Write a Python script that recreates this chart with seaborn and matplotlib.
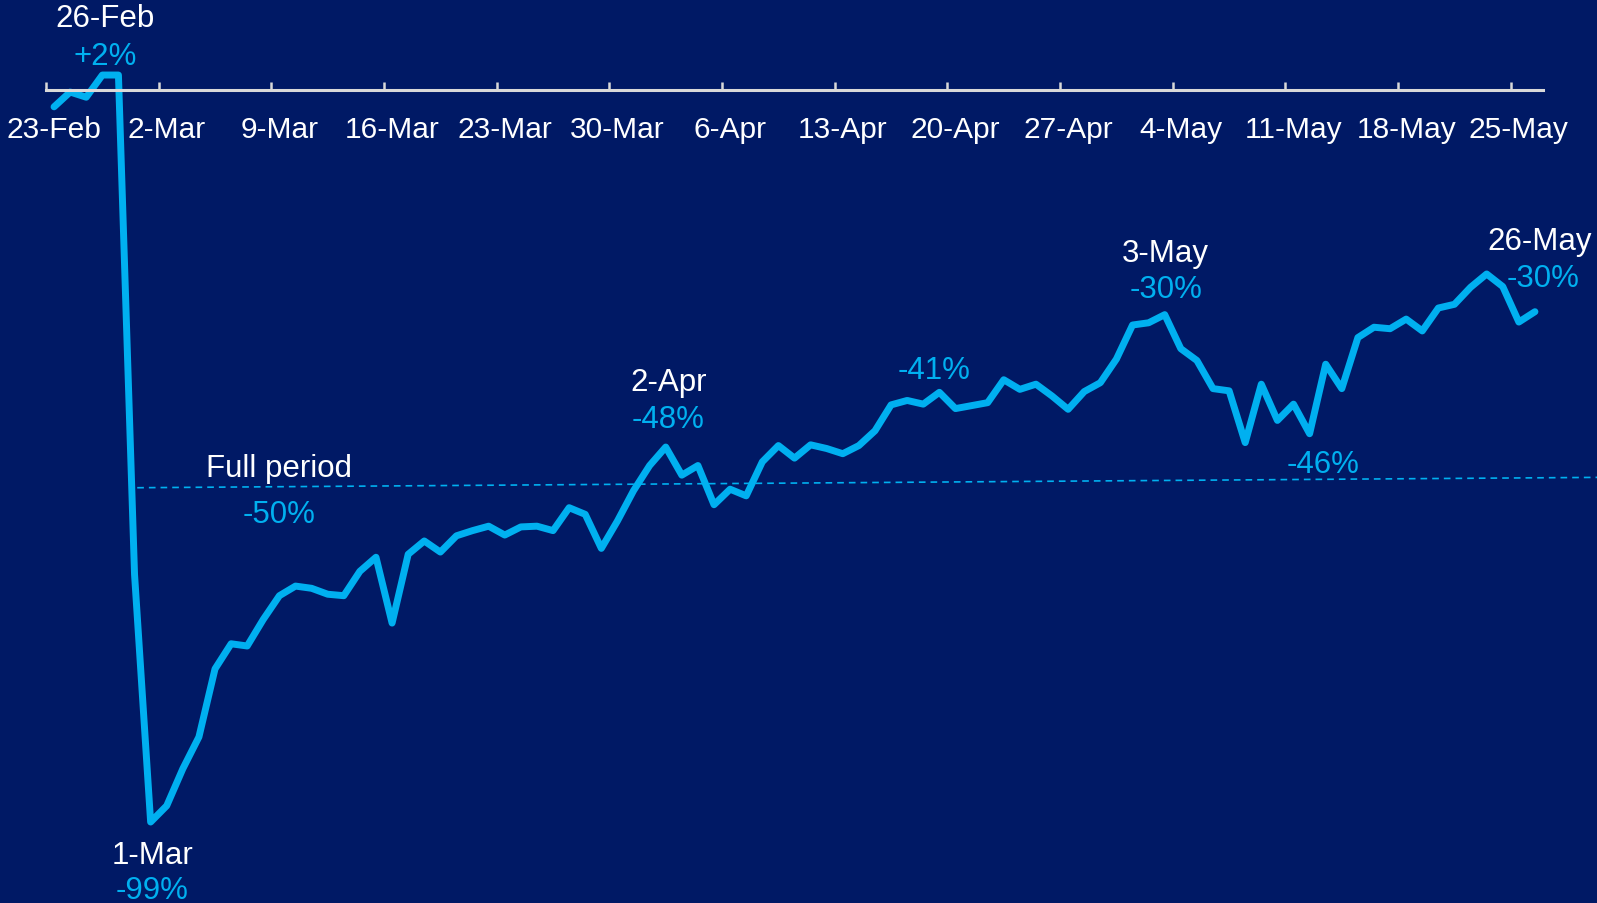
import pandas as pd
import matplotlib
matplotlib.use("Agg")
import matplotlib.pyplot as plt
import matplotlib.dates as mdates
import seaborn as sns

# Colours
BG = "#001965"
LINE = "#00B0F0"
AXIS = "#D9D9D9"

# Data: daily % change vs. baseline, 23-Feb to 26-May
start_date = "2021-02-23"
pct_change = [
    -2.3, -0.3, -1.0, 2.0, 2.0, -65.5, -99.0, -96.8, -91.8, -87.5,
    -78.3, -74.9, -75.2, -71.6, -68.4, -67.1, -67.4, -68.2, -68.4, -65.1,
    -63.2, -72.1, -62.8, -61.0, -62.5, -60.3, -59.6, -59.0, -60.2, -59.1,
    -59.0, -59.6, -56.5, -57.4, -62.0, -58.3, -54.2, -50.8, -48.3, -52.1,
    -50.8, -56.1, -54.0, -54.9, -50.3, -48.1, -49.8, -48.0, -48.5, -49.2,
    -48.1, -46.1, -42.6, -42.0, -42.5, -40.9, -43.1, -42.7, -42.3, -39.2,
    -40.5, -39.8, -41.4, -43.2, -40.8, -39.6, -36.4, -31.8, -31.5, -30.4,
    -35.0, -36.6, -40.4, -40.7, -47.7, -39.8, -44.7, -42.5, -46.5, -37.1,
    -40.4, -33.5, -32.1, -32.3, -31.0, -32.6, -29.5, -29.0, -26.7, -24.9,
    -26.6, -31.4, -30.0,
]
dates = pd.date_range(start_date, periods=len(pct_change), freq="D")
tick_step = 7

# Callouts
callout_dates = ["2021-02-26", "2021-03-01", "2021-04-02", "2021-04-19",
                 "2021-05-03", "2021-05-12", "2021-05-26"]
callout_titles = ["26-Feb", "1-Mar", "2-Apr", "", "3-May", "", "26-May"]
callout_values = ["+2%", "-99%", "-48%", "-41%", "-30%", "-46%", "-30%"]
# pixel offsets (title, value) relative to the point
title_offsets = [(3, 57), (2, -33), (3, 65), None, (1, 62), None, (5, 71)]
value_offsets = [(3, 19), (1, -68), (2, 28), (-5, 22), (1, 26), (13, -30), (8, 34)]

# Full-period reference line
full_period_dates = ["2021-02-28 04:00", "2021-05-30 00:00"]
full_period_values = [-53.8, -52.4]
full_period_label = "Full period"
full_period_value = "-50%"

sns.set_style("white", {"axes.facecolor": BG, "figure.facecolor": BG})
plt.rcParams["font.family"] = ["Liberation Sans", "DejaVu Sans"]

fig = plt.figure(figsize=(15.97, 9.04), dpi=100)
ax = fig.add_axes([46 / 1597, 0, (1543 - 46) / 1597, 1])

df = pd.DataFrame({"date": dates, "pct": pct_change})
sns.lineplot(data=df, x="date", y="pct", ax=ax, color=LINE, linewidth=5)
for line in ax.get_lines():
    line.set_solid_joinstyle("round")

ax.plot(pd.to_datetime(full_period_dates), full_period_values, color=LINE,
        linewidth=1.2, linestyle=(0, (4, 3)), clip_on=False)

half_day = pd.Timedelta(hours=12)
ax.set_xlim(dates[0] - half_day, dates[-1] + half_day)
ax.set_ylim(-109.95, 12.28)

# x axis crossing at zero, ticks between categories, labels on the points
for s in ["top", "left", "right"]:
    ax.spines[s].set_visible(False)
ax.spines["bottom"].set_position(("data", 0))
ax.spines["bottom"].set_color(AXIS)
ax.spines["bottom"].set_linewidth(2.2)
ax.set_yticks([])
ax.set_xlabel("")
ax.set_ylabel("")

ax.xaxis.set_major_locator(mdates.ticker.FixedLocator(
    mdates.date2num(dates[::tick_step] - half_day)))
ax.xaxis.set_major_formatter(mdates.ticker.NullFormatter())
ax.xaxis.set_minor_locator(mdates.ticker.FixedLocator(
    mdates.date2num(dates[::tick_step])))
ax.xaxis.set_minor_formatter(mdates.DateFormatter("%-d-%b"))
ax.tick_params(axis="x", which="both", bottom=True)
ax.tick_params(axis="x", which="major", direction="in", length=6, width=1.8,
               color=AXIS)
ax.tick_params(axis="x", which="minor", length=0, pad=18, labelsize=21.5,
               labelcolor="white")

# Callout labels
for d, title, val, t_off, v_off in zip(callout_dates, callout_titles, callout_values,
                                       title_offsets, value_offsets):
    xd = pd.Timestamp(d)
    yv = pct_change[dates.get_loc(xd)]
    if title:
        ax.annotate(title, (xd, yv), xytext=t_off, textcoords="offset pixels",
                    ha="center", va="center", color="white", fontsize=22.5)
    ax.annotate(val, (xd, yv), xytext=v_off, textcoords="offset pixels",
                ha="center", va="center", color=LINE, fontsize=22.5)

label_date = dates[0] + pd.Timedelta(days=14)
ax.text(label_date, -51.2, full_period_label, ha="center", va="center",
        color="white", fontsize=22.5)
ax.text(label_date, -57.4, full_period_value, ha="center", va="center",
        color=LINE, fontsize=22.5)

fig.savefig("out.png", dpi=100, facecolor=BG)
